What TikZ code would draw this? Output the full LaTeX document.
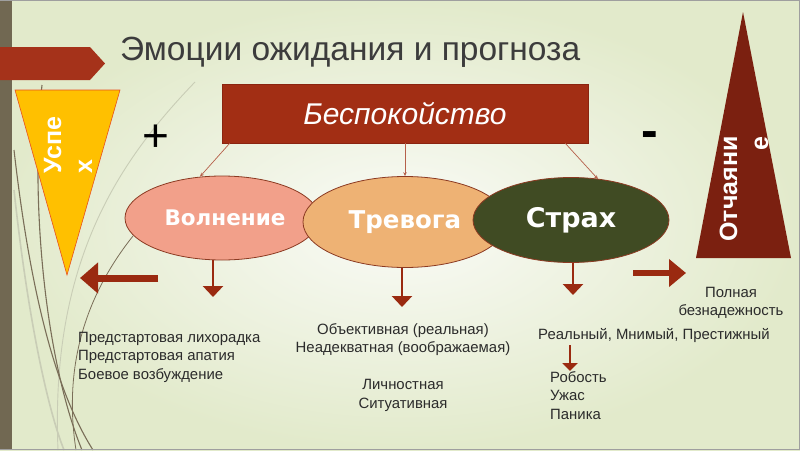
\documentclass[tikz,border=0pt]{standalone}
\usepackage{fontspec}
\setmainfont{Liberation Sans}
\newfontfamily\wideface{DejaVu Sans}
\usetikzlibrary{shapes.geometric,arrows.meta,calc}
\definecolor{bgedge}{HTML}{E2EACB}
\definecolor{bgmid}{HTML}{FAFBF7}
\definecolor{barcol}{HTML}{716852}
\definecolor{curvedark}{HTML}{7A6E58}
\definecolor{curvelight}{HTML}{C9CDB6}
\definecolor{bannerred}{HTML}{A5321A}
\definecolor{boxred}{HTML}{A22E14}
\definecolor{boxedge}{HTML}{8A2410}
\definecolor{gold}{HTML}{FFC000}
\definecolor{goldedge}{HTML}{E8501E}
\definecolor{deepred}{HTML}{7B2010}
\definecolor{salmon}{HTML}{F2A08A}
\definecolor{apricot}{HTML}{EEB274}
\definecolor{olive}{HTML}{404B23}
\definecolor{elledge}{HTML}{8B3A22}
\definecolor{arrred}{HTML}{9A2A10}
\definecolor{connred}{HTML}{B5604A}
\definecolor{txt}{HTML}{2B2B2B}
\definecolor{titletxt}{HTML}{3C3C3C}
\begin{document}
\begin{tikzpicture}[x=1pt,y=-1pt,
  emo/.style={ellipse, draw=elledge, line width=0.8, inner sep=0, text=white},
  link/.style={draw=connred, line width=0.7, -{Stealth[length=4,width=3.5]}},
  downarr/.style={draw=arrred, line width=2.6, -{Triangle[length=11,width=20]}},
  bigarr/.style={draw=arrred, -{Triangle[length=18,width=30]}},
  body/.style={text=txt, inner sep=0, font=\fontsize{14.9}{18.5}\selectfont},
  vlabel/.style={rotate=90, text=white, inner sep=0, font=\bfseries\fontsize{25}{31}\selectfont}
]
\useasboundingbox (0,0) rectangle (800,450);
% background
\shade[inner color=bgmid, outer color=bgedge] (0,0) rectangle (800,450);
% decorative curves
\draw[curvelight, line width=1.6] (14,190) .. controls (28,320) and (48,410) .. (64,450);
\draw[curvelight, line width=0.9] (195,82) .. controls (120,160) and (50,260) .. (58,450);
\draw[curvedark, line width=1.1] (42,85) .. controls (30,200) and (45,360) .. (82,450);
\draw[curvedark, line width=1.1] (14,150) .. controls (30,290) and (55,390) .. (93,450);
\draw[curvedark, line width=0.8] (133,236) .. controls (90,290) and (62,360) .. (76,450);
% left bar and frame
\fill[barcol] (0,0) rectangle (12,450);
\draw[gray!75, line width=1.2] (0,0.6) -- (799.4,0.6) -- (799.4,449.4) -- (0,449.4);
% banner
\fill[bannerred] (0,47) -- (90,47) -- (105,63.5) -- (90,80) -- (0,80) -- cycle;
% title
\node[anchor=base west, inner sep=0, text=titletxt, font=\fontsize{33.5}{38}\selectfont] (title) at (120,60) {Эмоции ожидания и прогноза};
% plus / minus
\node[text=black, font=\fontsize{46}{46}\selectfont] (plus) at (156,138) {+};
\node[text=black, font=\bfseries\fontsize{50}{50}\selectfont] (minus) at (650,140) {-};
% success triangle
\filldraw[fill=gold, draw=goldedge, line width=0.6] (15,90) -- (120,90) -- (67,275) -- cycle;
\node[vlabel, align=left] (uspeh) at (68,145) {Успе\\х};
% despair triangle
\fill[deepred] (743,12) -- (791,258) -- (696,258) -- cycle;
\node[vlabel, align=right] (otch) at (744,189) {Отчаяни\\е};
% main box
\node[draw=boxedge, line width=0.6, fill=boxred, minimum width=366, minimum height=59, inner sep=0,
  text=white, font=\itshape\fontsize{30}{36}\selectfont] (bes) at (405,113.5) {Беспокойство};
% ellipses
\node[emo, fill=salmon, minimum width=194, minimum height=84, font=\wideface\bfseries\fontsize{21.5}{26}\selectfont] (vol) at (222,218) {\hspace*{6pt}Волнение};
\node[emo, fill=apricot, minimum width=204, minimum height=91, font=\wideface\bfseries\fontsize{24.5}{30}\selectfont] (trev) at (405,222) {Тревога};
\node[emo, fill=olive, minimum width=196, minimum height=85, font=\wideface\bfseries\fontsize{27}{32}\selectfont] (strah) at (571,220) {Страх};
% links from main box
\draw[link] ($(bes.south west)+(8,0)$) -- ($(vol.north)+(-22,1)$);
\draw[link] (bes.south) -- (trev.north);
\draw[link] ($(bes.south east)+(-23,0)$) -- ($(strah.north)+(27,2)$);
% down arrows
\coordinate (d1) at (213,297);
\coordinate (d2) at (402,307);
\coordinate (d3) at (573,295);
\draw[downarr] (d1 |- vol.south) -- (d1);
\draw[downarr] (d2 |- trev.south) -- (d2);
\draw[downarr] (d3 |- strah.south) -- (d3);
% side arrows
\coordinate (lfrom) at (158,278);
\coordinate (lto) at (80,278);
\draw[bigarr, line width=7] (lfrom) -- (lto);
\coordinate (rfrom) at (633,273);
\coordinate (rto) at (686,273);
\draw[draw=arrred, line width=6, -{Triangle[length=17,width=27]}] (rfrom) -- (rto);
% texts
\node[body, align=center, anchor=north] (hope) at (731,287) {Полная\\безнадежность};
\node[body, align=left, anchor=north west] (volt) at (78,332) {Предстартовая лихорадка\\Предстартовая апатия\\Боевое возбуждение};
\node[body, align=center, anchor=north] (trevt) at (403,323) {Объективная (реальная)\\Неадекватная (воображаемая)\\[18.5pt]Личностная\\Ситуативная};
\node[body, anchor=base west] (straht) at (538,339.5) {Реальный, Мнимый, Престижный};
\node[body, align=left, anchor=north west] (kinds) at (550,371) {Робость\\Ужас\\Паника};
\draw[draw=arrred, line width=2.2, -{Triangle[length=8,width=15]}] (570,345) -- (kinds.north west -| 570,366);
\end{tikzpicture}
\end{document}
